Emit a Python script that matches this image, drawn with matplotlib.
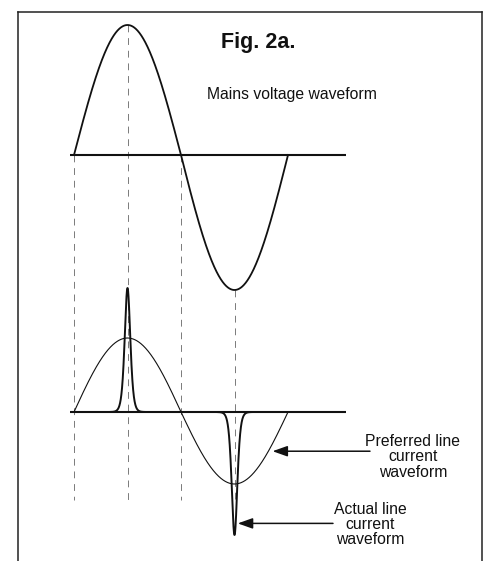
# fig2a.py
"""
Mains voltage and line current waveforms of a rectifier-capacitor input stage.
"""

import numpy as np
import matplotlib.pyplot as plt
from matplotlib.lines import Line2D

# ---------------------------------------------------------------------------
# Waveform values (amplitudes in drawing units, phase in degrees)
GUIDE_PHASES = [0, 90, 180, 270]              # dashed guide lines
V_PEAK = [130, 135]                            # mains voltage: +half, -half
I_PREF_PEAK = [74, 72]                         # preferred (sinusoidal) current
I_PULSE_PEAK = [124, 123]                      # actual (peaky) current pulses
I_PULSE_PHASE = [90, 270]
I_PULSE_WIDTH = 6.3                            # sech^2 width, degrees
AXIS_SPAN = [-7, 458]                          # extent of the zero lines

TITLE = "Fig. 2a."
V_LABEL = "Mains voltage waveform"
PREF_LABEL = ["Preferred line", "current", "waveform"]
ACTUAL_LABEL = ["Actual line", "current", "waveform"]

# ---------------------------------------------------------------------------
# Layout (pixels on a 485 x 561 canvas)
W, H = 485, 561
X0_PX = 74                 # where phase 0 sits
CYCLE_PX = 214             # width of one mains cycle
V_BASE = H - 155           # voltage zero line
I_BASE = H - 412           # current zero line
GUIDE_BOTTOM = H - 500

INK = "#111111"


def half_wave(theta, peaks):
    s = np.sin(np.radians(theta))
    return np.where(s >= 0, peaks[0] * s, peaks[1] * s)


def pulse(theta, centre, peak, width):
    return peak / np.cosh((theta - centre) / width) ** 2


def fig_xy(x, y):
    return x / W, 1 - y / H


fig = plt.figure(figsize=(W / 100, H / 100), dpi=100)
ax = fig.add_axes([0, 0, 1, 1])
deg_per_px = 360 / CYCLE_PX
ax.set_xlim(-X0_PX * deg_per_px, (W - X0_PX) * deg_per_px)
ax.set_ylim(0, H)
ax.axis("off")

theta = np.linspace(0, 360, 1441)
v = half_wave(theta, V_PEAK)
i_pref = half_wave(theta, I_PREF_PEAK)

# dashed guides at the quarter-cycle points
for ph in GUIDE_PHASES:
    top = V_BASE + float(half_wave(np.array([ph]), V_PEAK)[0])
    ax.plot([ph, ph], [top, GUIDE_BOTTOM], color="#7a7a7a", lw=0.7,
            dashes=(7, 6), zorder=1)

# zero lines
for base in (V_BASE, I_BASE):
    ax.plot(AXIS_SPAN, [base, base], color=INK, lw=1.5, solid_capstyle="butt", zorder=3)

# mains voltage
ax.plot(theta, V_BASE + v, color=INK, lw=1.3, zorder=4)

# preferred line current
ax.plot(theta, I_BASE + i_pref, color=INK, lw=0.8, zorder=4)

# actual line current: narrow charging pulses
signs = [1, -1]
for ph, pk, sg in zip(I_PULSE_PHASE, I_PULSE_PEAK, signs):
    t = np.linspace(ph - 30, ph + 30, 601)
    ax.plot(t, I_BASE + sg * pulse(t, ph, pk, I_PULSE_WIDTH), color=INK, lw=1.4, zorder=5)

# labels and arrows
fig.text(*fig_xy(258, 47.7), TITLE, ha="center", va="baseline",
         family="Liberation Sans", weight="bold", fontsize=15.5, color=INK)
fig.text(*fig_xy(207, 99.5), V_LABEL, ha="left", va="baseline",
         family="Liberation Sans", fontsize=11.3, color=INK)

for k, line in enumerate(PREF_LABEL):
    fig.text(*fig_xy(413, 446 + 15.3 * k), line, ha="center", va="baseline",
             family="Liberation Sans", fontsize=11.3, color=INK)
for k, line in enumerate(ACTUAL_LABEL):
    fig.text(*fig_xy(370, 513.5 + 15.5 * k), line, ha="center", va="baseline",
             family="Liberation Sans", fontsize=11.3, color=INK)

arrow = dict(arrowstyle="-|>,head_length=0.9,head_width=0.32", mutation_scale=10,
             color=INK, lw=1.1, shrinkA=0)

tip = 327
tip_y = I_BASE + float(half_wave(np.array([tip]), I_PREF_PEAK)[0])
ax.annotate("", xy=(tip, tip_y), xytext=((370 - X0_PX) * deg_per_px, tip_y),
            arrowprops=dict(arrow, shrinkB=3))

tip = 272
tip_y = I_BASE - float(pulse(np.array([tip]), 270, I_PULSE_PEAK[1], I_PULSE_WIDTH)[0])
ax.annotate("", xy=(tip, tip_y), xytext=((333 - X0_PX) * deg_per_px, tip_y),
            arrowprops=dict(arrow, shrinkB=1.5))

# frame around the figure (open at the bottom)
frame = dict(color="#222222", lw=1.1, transform=fig.transFigure)
fig.add_artist(Line2D(*zip(fig_xy(18, 561), fig_xy(18, 12)), **frame))
fig.add_artist(Line2D(*zip(fig_xy(18, 12), fig_xy(482, 12)), **frame))
fig.add_artist(Line2D(*zip(fig_xy(482, 12), fig_xy(482, 561)), **frame))

fig.savefig("out.png", dpi=100, facecolor="white")
